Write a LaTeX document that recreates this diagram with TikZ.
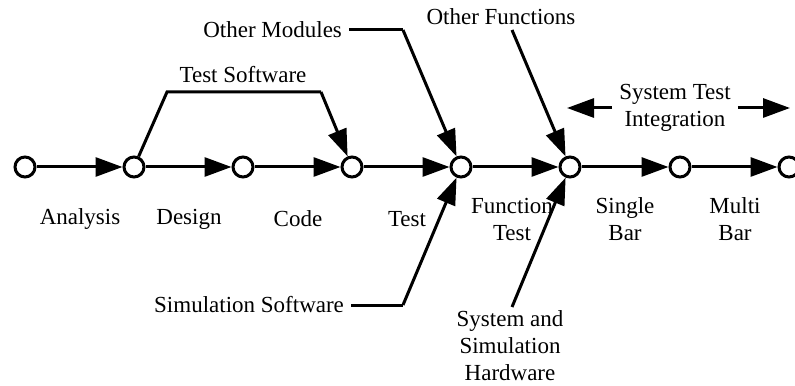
\documentclass[tikz,border=0pt]{standalone}
\usepackage{fontspec}
\setmainfont{Liberation Serif}
\usetikzlibrary{arrows.meta}
\begin{document}
\begin{tikzpicture}[x=0.5pt,y=0.5pt,
  stage/.style={circle, draw, line width=1.5pt, fill=white, minimum size=10pt, inner sep=0pt},
  flow/.style={line width=1.5pt, -{Triangle[length=13.5pt,width=9.5pt]}},
  feed/.style={line width=1.5pt},
  lbl/.style={font=\fontsize{11.5pt}{13.5pt}\selectfont, align=center}]
\useasboundingbox (0,0) rectangle (795,385);
% stages along the main line
\node[stage] (st0) at (25,218){};
\node[stage] (st1) at (134,218){};
\node[stage] (st2) at (243,218){};
\node[stage] (st3) at (352,218){};
\node[stage] (st4) at (461,218){};
\node[stage] (st5) at (570,218){};
\node[stage] (st6) at (680,218){};
\node[stage] (st7) at (789,218){};
\draw[flow](st0) -- (st1);
\draw[flow](st1) -- (st2);
\draw[flow](st2) -- (st3);
\draw[flow](st3) -- (st4);
\draw[flow](st4) -- (st5);
\draw[flow](st5) -- (st6);
\draw[flow](st6) -- (st7);
% phase labels
\node[lbl] (lanalysis) at (80,166){Analysis};
\node[lbl] (ldesign) at (189,166){Design};
\node[lbl] (lcode) at (298,166){Code};
\node[lbl] (ltest) at (407,166){Test};
\node[lbl] (lfunc) at (512,166){Function\\Test};
\node[lbl] (lsingle) at (625,166){Single\\Bar};
\node[lbl] (lmulti) at (735,166){Multi\\Bar};
% test software
\node[lbl] (ltsw) at (243,310){Test Software};
\coordinate (tswa) at (167,293);
\coordinate (tswb) at (321,293);
\draw[feed](st1) -- (tswa) -- (tswb);
\draw[flow](tswb) -- (st3);
% other modules
\node[lbl, anchor=east] (lmod) at (349,355){Other Modules};
\coordinate (moda) at (403,355);
\draw[feed](lmod.east) -- (moda);
\draw[flow](moda) -- (st4);
% simulation software
\node[lbl, anchor=east] (lssw) at (351,80){Simulation Software};
\coordinate (sswa) at (403,80);
\draw[feed](lssw.east) -- (sswa);
\draw[flow](sswa) -- (st4);
% other functions
\node[lbl] (lfun) at (501,368){Other Functions};
\coordinate (funa) at (512,355);
\draw[flow](funa) -- (st5);
% system and simulation hardware
\node[lbl] (lhw) at (510,39){System and\\Simulation\\Hardware};
\coordinate (hwa) at (512,78);
\draw[flow](hwa) -- (st5);
% system test integration
\node[lbl] (lsti) at (675,277){System Test\\Integration};
\coordinate (stil) at (567,277);
\coordinate (stir) at (790,277);
\draw[flow](lsti.west) -- (stil);
\draw[flow](lsti.east) -- (stir);
\end{tikzpicture}
\end{document}
